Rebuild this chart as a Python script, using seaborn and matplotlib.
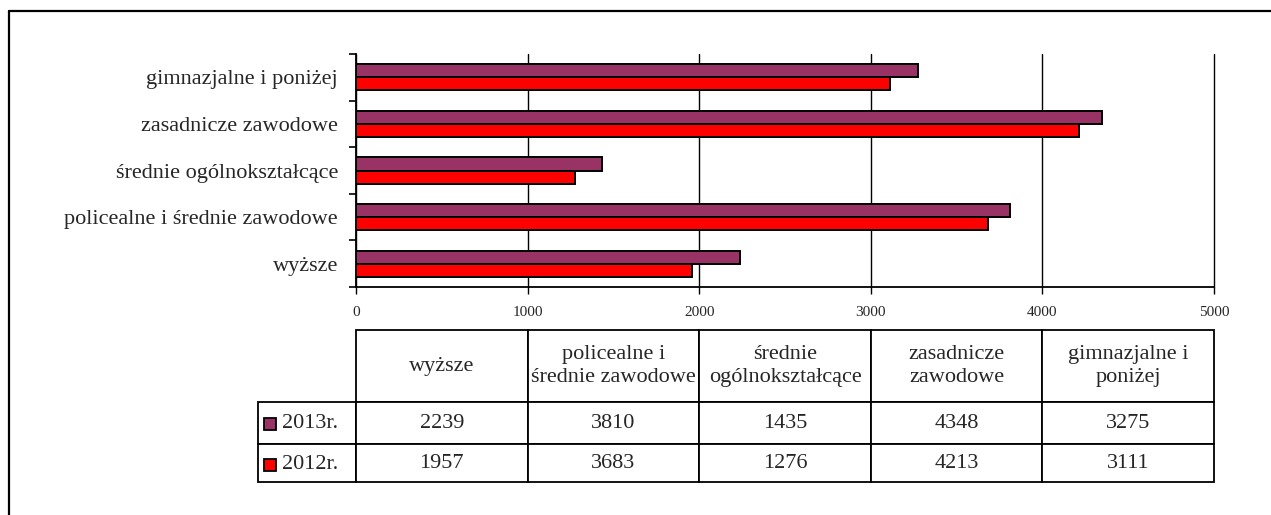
import pandas as pd
import matplotlib.pyplot as plt
import seaborn as sns
from matplotlib.lines import Line2D

# data (chart order, top to bottom)
categories = ['gimnazjalne i poniżej', 'zasadnicze zawodowe', 'średnie ogólnokształcące',
              'policealne i średnie zawodowe', 'wyższe']
values_2013 = [3275, 4348, 1435, 3810, 2239]
values_2012 = [3111, 4213, 1276, 3683, 1957]
years = ['2013r.', '2012r.']
colors = ['#993366', '#FF0000']

# table order (left to right)
table_headers = ['wyższe', 'policealne i\nśrednie zawodowe', 'średnie\nogólnokształcące',
                 'zasadnicze\nzawodowe', 'gimnazjalne i\nponiżej']

df = pd.DataFrame({
    'kategoria': categories * 2,
    'rok': [years[0]] * len(categories) + [years[1]] * len(categories),
    'wartosc': values_2013 + values_2012,
})

sns.set_style('white')
plt.rcParams['font.family'] = ['Liberation Serif', 'DejaVu Serif']

fig = plt.figure(figsize=(12.71, 5.15), dpi=100)
ax = fig.add_axes([356 / 1271, 1 - 287 / 515, 858 / 1271, 233 / 515])

sns.barplot(data=df, y='kategoria', x='wartosc', hue='rok', order=categories,
            hue_order=years, palette=colors, width=0.56, saturation=1,
            edgecolor='black', linewidth=1.4, orient='h', legend=False, ax=ax)

ax.set_xlim(0, 5000)
ax.set_ylim(len(categories) - 0.5, -0.5)
ax.set_xticks(range(0, 5001, 1000))
ax.set_xlabel('')
ax.set_ylabel('')
ax.set_axisbelow(True)
ax.grid(axis='x', color='black', linewidth=1.0)
ax.grid(axis='y', visible=False)
for gl in ax.get_xgridlines():
    gl.set_clip_on(False)
for s in ['top', 'right']:
    ax.spines[s].set_visible(False)
for s in ['left', 'bottom']:
    ax.spines[s].set_color('black')
    ax.spines[s].set_linewidth(1.3)

ax.set_yticks([i - 0.5 for i in range(len(categories) + 1)], minor=True)
ax.tick_params(axis='y', which='major', length=0, pad=13, labelsize=16)
ax.tick_params(axis='y', which='minor', length=5, width=1.2, color='black', direction='out', left=True)
ax.tick_params(axis='x', which='major', length=5, width=1.0, color='black', direction='out',
               bottom=True, pad=9, labelsize=11)

# data table under the chart
cell_text = [[''] + [str(v) for v in values_2013[::-1]],
             [''] + [str(v) for v in values_2012[::-1]]]
tbl = ax.table(cellText=cell_text, colLabels=[''] + table_headers,
               colWidths=[98 / 171.6 * 0.2] + [0.2] * 5, cellLoc='center',
               bbox=[-98 / 858, -195 / 233, 1 + 98 / 858, 152 / 233])
tbl.auto_set_font_size(False)
tbl.set_fontsize(16)
row_heights = [72, 42, 38]
for (r, c), cell in tbl.get_celld().items():
    cell.set_height(row_heights[r])
    cell.set_linewidth(1.3)
    cell.set_edgecolor('black')
    cell.get_text().set_linespacing(1.35)
tbl[(0, 0)].visible_edges = ''

# legend keys in the table
row_y = [-(423.5 - 287) / 233, -(464.5 - 287) / 233]
for y, year, col in zip(row_y, years, colors):
    ax.plot([-(356 - 269.5) / 858], [y], marker='s', markersize=8.5, markerfacecolor=col,
            markeredgecolor='black', markeredgewidth=1.3, transform=ax.transAxes, clip_on=False)
    ax.text(-(356 - 282) / 858, y, year, fontsize=16, ha='left', va='center',
            transform=ax.transAxes)

# outer frame
fig.add_artist(Line2D([9 / 1271, 9 / 1271], [0, 1 - 11 / 515], color='black', linewidth=1.6))
fig.add_artist(Line2D([9 / 1271, 1], [1 - 11 / 515, 1 - 11 / 515], color='black', linewidth=1.6))

fig.savefig('out.png', dpi=100)
